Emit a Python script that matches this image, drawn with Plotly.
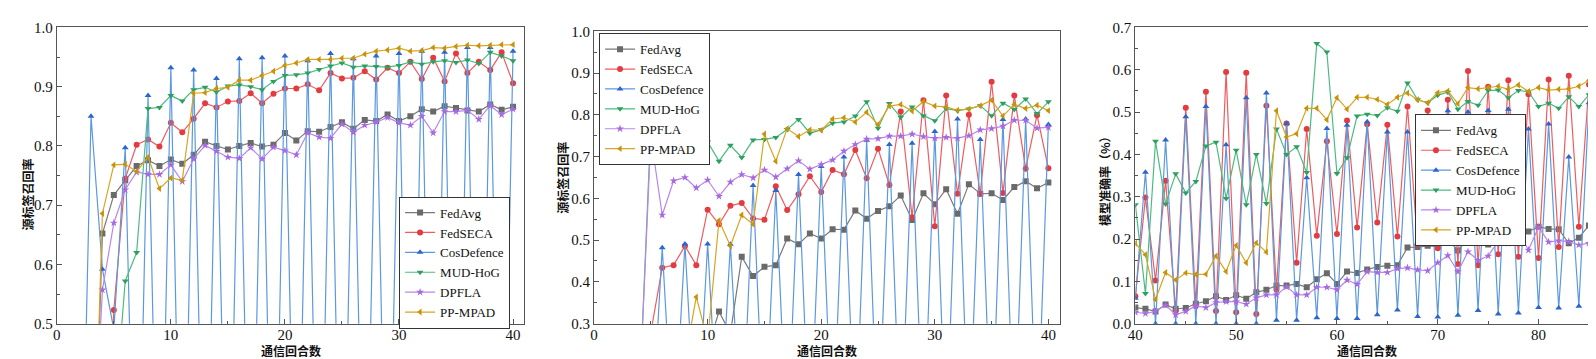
import plotly.graph_objects as go

W, H = 1596, 359

# ---------------- data ----------------
series_names = ["FedAvg", "FedSECA", "CosDefence", "MUD-HoG", "DPFLA", "PP-MPAD"]

rounds_ab = list(range(1, 41))
rounds_c = list(range(40, 86))

# Panel 1 : 源标签召回率
fedavg_a = [0.05, 0.05, 0.05, 0.652, 0.717, 0.742, 0.766, 0.776, 0.766, 0.777,
            0.770, 0.785, 0.807, 0.800, 0.794, 0.800, 0.805, 0.799, 0.802, 0.822,
            0.809, 0.825, 0.824, 0.832, 0.840, 0.829, 0.844, 0.842, 0.853, 0.842,
            0.850, 0.862, 0.858, 0.867, 0.864, 0.860, 0.858, 0.870, 0.861, 0.866]
fedseca_a = [0.05, 0.05, 0.05, 0.10, 0.523, 0.745, 0.802, 0.811, 0.799, 0.839,
             0.823, 0.846, 0.872, 0.865, 0.875, 0.876, 0.889, 0.872, 0.888, 0.897,
             0.897, 0.904, 0.894, 0.923, 0.914, 0.915, 0.926, 0.912, 0.932, 0.923,
             0.942, 0.913, 0.949, 0.909, 0.956, 0.923, 0.942, 0.928, 0.958, 0.906]
cos_a = [0.0, 0.0, 0.850, 0.592, 0.490, 0.797, 0.0, 0.885, 0.0, 0.932,
         0.0, 0.928, 0.0, 0.914, 0.0, 0.947, 0.0, 0.949, 0.0, 0.952,
         0.0, 0.944, 0.0, 0.956, 0.0, 0.947, 0.0, 0.952, 0.0, 0.956,
         0.0, 0.960, 0.0, 0.958, 0.0, 0.966, 0.0, 0.966, 0.0, 0.960]
mud_a = [0.05, 0.05, 0.05, 0.05, 0.33, 0.572, 0.620, 0.863, 0.865, 0.885,
         0.876, 0.895, 0.899, 0.891, 0.901, 0.903, 0.900, 0.895, 0.909, 0.919,
         0.920, 0.923, 0.929, 0.935, 0.940, 0.933, 0.935, 0.934, 0.933, 0.936,
         0.942, 0.938, 0.942, 0.944, 0.941, 0.945, 0.939, 0.958, 0.952, 0.944]
dpfla_a = [0.05, 0.05, 0.18, 0.557, 0.670, 0.726, 0.756, 0.752, 0.752, 0.768,
           0.740, 0.778, 0.801, 0.791, 0.781, 0.779, 0.797, 0.778, 0.798, 0.792,
           0.785, 0.822, 0.815, 0.813, 0.837, 0.823, 0.835, 0.840, 0.848, 0.839,
           0.835, 0.850, 0.822, 0.858, 0.858, 0.860, 0.845, 0.868, 0.853, 0.862]
ppmpad_a = [0.05, 0.05, 0.07, 0.686, 0.768, 0.769, 0.757, 0.781, 0.728, 0.746,
            0.742, 0.889, 0.890, 0.897, 0.899, 0.911, 0.911, 0.919, 0.926, 0.936,
            0.940, 0.946, 0.946, 0.946, 0.948, 0.948, 0.955, 0.960, 0.962, 0.965,
            0.960, 0.961, 0.966, 0.965, 0.968, 0.970, 0.969, 0.970, 0.971, 0.971]

# Panel 2 : 源标签召回率
fedavg_b = [0.2, 0.2, 0.2, 0.2, 0.2, 0.2, 0.2, 0.2, 0.2, 0.24,
            0.329, 0.276, 0.460, 0.414, 0.436, 0.440, 0.504, 0.490, 0.516, 0.504,
            0.526, 0.525, 0.571, 0.551, 0.570, 0.581, 0.607, 0.548, 0.612, 0.586,
            0.622, 0.563, 0.634, 0.611, 0.612, 0.596, 0.627, 0.641, 0.624, 0.638]
fedseca_b = [0.1, 0.1, 0.1, 0.1, 0.28, 0.434, 0.440, 0.486, 0.440, 0.573,
             0.538, 0.582, 0.589, 0.552, 0.549, 0.629, 0.572, 0.610, 0.653, 0.615,
             0.668, 0.658, 0.716, 0.648, 0.719, 0.632, 0.808, 0.555, 0.835, 0.533,
             0.846, 0.611, 0.800, 0.611, 0.879, 0.613, 0.846, 0.671, 0.799, 0.672]
cos_b = [0.0, 0.0, 0.0, 0.0, 0.0, 0.482, 0.0, 0.491, 0.0, 0.491,
         0.0, 0.490, 0.0, 0.631, 0.0, 0.619, 0.0, 0.657, 0.0, 0.676,
         0.0, 0.699, 0.0, 0.739, 0.0, 0.729, 0.0, 0.732, 0.0, 0.760,
         0.0, 0.790, 0.0, 0.741, 0.0, 0.789, 0.0, 0.790, 0.0, 0.777]
mud_b = [0.1, 0.1, 0.1, 0.13, 0.776, 0.693, 0.744, 0.709, 0.710, 0.735,
         0.689, 0.727, 0.698, 0.740, 0.741, 0.746, 0.765, 0.789, 0.756, 0.764,
         0.780, 0.783, 0.797, 0.831, 0.768, 0.827, 0.794, 0.819, 0.798, 0.786,
         0.815, 0.810, 0.814, 0.822, 0.798, 0.828, 0.813, 0.838, 0.803, 0.831]
dpfla_b = [0.1, 0.1, 0.1, 0.13, 0.748, 0.560, 0.642, 0.650, 0.625, 0.644,
           0.605, 0.639, 0.657, 0.649, 0.668, 0.651, 0.671, 0.690, 0.670, 0.681,
           0.692, 0.713, 0.729, 0.742, 0.743, 0.749, 0.749, 0.754, 0.748, 0.744,
           0.746, 0.744, 0.750, 0.764, 0.767, 0.773, 0.787, 0.787, 0.768, 0.770]
ppmpad_b = [0.2, 0.2, 0.2, 0.2, 0.2, 0.2, 0.2, 0.215, 0.364, 0.26,
            0.547, 0.486, 0.560, 0.538, 0.754, 0.689, 0.767, 0.748, 0.764, 0.763,
            0.790, 0.793, 0.783, 0.806, 0.777, 0.821, 0.825, 0.809, 0.832, 0.821,
            0.819, 0.811, 0.814, 0.822, 0.835, 0.797, 0.825, 0.815, 0.823, 0.810]

# Panel 3 : 模型准确率（%）
fedavg_c = [0.038, 0.035, 0.029, 0.045, 0.035, 0.037, 0.047, 0.053, 0.065, 0.056,
            0.067, 0.059, 0.074, 0.080, 0.090, 0.090, 0.094, 0.086, 0.105, 0.119,
            0.094, 0.123, 0.120, 0.128, 0.134, 0.137, 0.138, 0.180, 0.181, 0.184,
            0.182, 0.199, 0.173, 0.200, 0.199, 0.187, 0.217, 0.210, 0.215, 0.218,
            0.229, 0.224, 0.223, 0.190, 0.203, 0.232]
fedseca_c = [0.065, 0.298, 0.102, 0.338, 0.030, 0.510, 0.042, 0.548, 0.030, 0.595,
             0.027, 0.593, 0.023, 0.515, 0.080, 0.473, 0.144, 0.460, 0.208, 0.431,
             0.212, 0.480, 0.227, 0.471, 0.239, 0.470, 0.206, 0.513, 0.187, 0.504,
             0.178, 0.529, 0.141, 0.597, 0.138, 0.560, 0.164, 0.575, 0.158, 0.542,
             0.155, 0.577, 0.181, 0.586, 0.229, 0.565]
cos_c = [0.060, 0.358, 0.0, 0.434, 0.0, 0.489, 0.0, 0.513, 0.0, 0.423,
         0.0, 0.534, 0.0, 0.545, 0.008, 0.473, 0.008, 0.345, 0.014, 0.461,
         0.012, 0.469, 0.012, 0.477, 0.021, 0.453, 0.032, 0.453, 0.017, 0.473,
         0.016, 0.503, 0.020, 0.500, 0.031, 0.504, 0.023, 0.507, 0.025, 0.460,
         0.038, 0.472, 0.037, 0.394, 0.041, 0.522]
mud_c = [0.281, 0.071, 0.431, 0.283, 0.354, 0.309, 0.336, 0.420, 0.429, 0.296,
         0.410, 0.281, 0.400, 0.284, 0.460, 0.400, 0.418, 0.357, 0.662, 0.642,
         0.355, 0.392, 0.491, 0.495, 0.492, 0.510, 0.502, 0.569, 0.529, 0.522,
         0.540, 0.547, 0.507, 0.525, 0.516, 0.551, 0.552, 0.534, 0.551, 0.548,
         0.513, 0.521, 0.509, 0.536, 0.513, 0.541]
dpfla_c = [0.027, 0.024, 0.029, 0.044, 0.021, 0.029, 0.042, 0.038, 0.050, 0.052,
           0.052, 0.046, 0.061, 0.068, 0.068, 0.087, 0.068, 0.068, 0.086, 0.086,
           0.080, 0.103, 0.093, 0.123, 0.121, 0.121, 0.130, 0.132, 0.127, 0.125,
           0.144, 0.161, 0.123, 0.170, 0.150, 0.160, 0.195, 0.190, 0.216, 0.174,
           0.228, 0.193, 0.196, 0.194, 0.186, 0.190]
ppmpad_c = [0.190, 0.163, 0.057, 0.121, 0.103, 0.120, 0.116, 0.117, 0.160, 0.123,
            0.185, 0.144, 0.191, 0.169, 0.503, 0.441, 0.449, 0.509, 0.509, 0.482,
            0.534, 0.507, 0.535, 0.535, 0.530, 0.518, 0.535, 0.545, 0.529, 0.522,
            0.546, 0.550, 0.520, 0.558, 0.555, 0.558, 0.561, 0.554, 0.564, 0.549,
            0.558, 0.552, 0.554, 0.555, 0.561, 0.575]

# ---------------- styles ----------------
line_colors = ["#7a7a7a", "#ef5b5f", "#5b98de", "#4cbb80", "#ba86ee", "#d9a521"]
marker_colors = ["#6a6a6a", "#e23c41", "#2a66cc", "#2f9f60", "#a66ae0", "#c8930b"]
symbols = ["square", "circle", "triangle-up", "triangle-down", "star", "triangle-left"]

SERIF = "Liberation Serif, Times New Roman, serif"
CJK = "Noto Sans CJK SC, sans-serif"
AXC = "#555555"

def px(xp):
    return xp / W

def py(yp):
    return 1 - yp / H

panels = [
    dict(x=rounds_ab, ys=[fedavg_a, fedseca_a, cos_a, mud_a, dpfla_a, ppmpad_a],
         dom=(41, 511, 12, 322), xr=[0, 41], yr=[0.5, 1.0], xt0=0, yt0=0.5,
         legend="legend", leg=(385, 189)),
    dict(x=rounds_ab, ys=[fedavg_b, fedseca_b, cos_b, mud_b, dpfla_b, ppmpad_b],
         dom=(581, 1049, 16, 322), xr=[0, 41], yr=[0.3, 1.0], xt0=0, yt0=0.3,
         legend="legend2", leg=(586, 18)),
    dict(x=rounds_c, ys=[fedavg_c, fedseca_c, cos_c, mud_c, dpfla_c, ppmpad_c],
         dom=(1125, 1591, 12, 322), xr=[40, 86], yr=[0.0, 0.7], xt0=40, yt0=0.0,
         legend="legend3", leg=(1406, 103)),
]

fig = go.Figure()
layout = dict(
    width=W, height=H,
    margin=dict(l=0, r=0, t=0, b=0),
    paper_bgcolor="white", plot_bgcolor="white",
    showlegend=True,
)

for i, p in enumerate(panels, start=1):
    sfx = "" if i == 1 else str(i)
    for k, name in enumerate(series_names):
        fig.add_trace(go.Scatter(
            x=p["x"], y=p["ys"][k], name=name, mode="lines+markers",
            xaxis="x" + sfx, yaxis="y" + sfx, legend=p["legend"],
            line=dict(color=line_colors[k], width=1.2),
            marker=dict(symbol=symbols[k], size=6, color=marker_colors[k],
                        line=dict(width=0)),
            cliponaxis=True,
        ))
    x0, x1, y0, y1 = p["dom"]
    layout["xaxis" + sfx] = dict(
        domain=[px(x0), px(x1)], range=p["xr"], anchor="y" + sfx,
        showline=True, linecolor=AXC, linewidth=1, mirror=True,
        ticks="inside", ticklen=5, tickcolor=AXC, tick0=p["xt0"], dtick=10,
        minor=dict(ticks="inside", ticklen=3, dtick=5, tickcolor=AXC),
        showgrid=False, zeroline=False, ticklabelstandoff=-3,
        tickfont=dict(family=SERIF, size=15, color="#111"),
    )
    layout["yaxis" + sfx] = dict(
        domain=[py(y1), py(y0)], range=p["yr"], anchor="x" + sfx,
        showline=True, linecolor=AXC, linewidth=1, mirror=True,
        ticks="inside", ticklen=5, tickcolor=AXC, tick0=p["yt0"], dtick=0.1,
        minor=dict(ticks="inside", ticklen=3, dtick=0.05, tickcolor=AXC),
        tickformat=".1f", showgrid=False, zeroline=False,
        tickfont=dict(family=SERIF, size=15, color="#111"),
    )
    lx, ly = p["leg"]
    layout[p["legend"]] = dict(
        x=px(lx), y=py(ly), xanchor="left", yanchor="top",
        bgcolor="white", bordercolor="#333333", borderwidth=1,
        font=dict(family=SERIF, size=13, color="#111"),
        tracegroupgap=0, itemwidth=30,
    )

fig.update_layout(**layout)

annos = [
    dict(text="<b>通信回合数</b>", x=px(276), y=py(350)),
    dict(text="<b>通信回合数</b>", x=px(815), y=py(350)),
    dict(text="<b>通信回合数</b>", x=px(1358), y=py(350)),
    dict(text="<b>源标签召回率</b>", x=px(12), y=py(187), textangle=-90),
    dict(text="<b>源标签召回率</b>", x=px(549), y=py(169), textangle=-90),
    dict(text="<b>模型准确率（%）</b>", x=px(1094), y=py(170), textangle=-90),
]
for a in annos:
    fig.add_annotation(xref="paper", yref="paper", showarrow=False,
                       xanchor="center", yanchor="middle",
                       font=dict(family=CJK, size=12, color="#111"), **a)

fig.write_html("out.html")
